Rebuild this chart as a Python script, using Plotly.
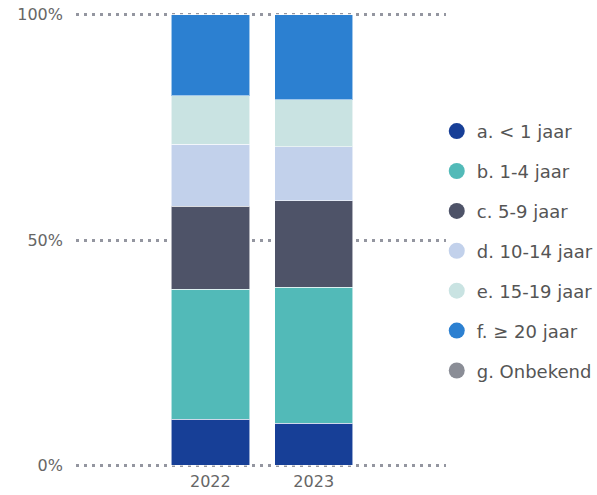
import plotly.graph_objects as go

years = ["2022", "2023"]
categories = ["a. < 1 jaar", "b. 1-4 jaar", "c. 5-9 jaar", "d. 10-14 jaar",
              "e. 15-19 jaar", "f. ≥ 20 jaar", "g. Onbekend"]
values = {
    "a. < 1 jaar":   [10.2, 9.3],
    "b. 1-4 jaar":   [28.9, 30.2],
    "c. 5-9 jaar":   [18.4, 19.2],
    "d. 10-14 jaar": [13.8, 12.0],
    "e. 15-19 jaar": [10.7, 10.4],
    "f. ≥ 20 jaar":  [18.0, 18.9],
    "g. Onbekend":   [0.0, 0.0],
}
colors = ["#173f97", "#52bab8", "#4e5368", "#c2d1eb", "#c9e3e2", "#2c80d1", "#8a8d96"]
y_ticks = [0, 50, 100]
y_tick_labels = ["0%", "50%", "100%"]

FONT = "DejaVu Sans"
fig = go.Figure()
for i, (cat, col) in enumerate(zip(categories, colors)):
    fig.add_trace(go.Bar(
        x=years, y=values[cat], name=cat, marker_color=col,
        marker_line=dict(color="rgba(255,255,255,0.55)", width=1),
        showlegend=False, legendgroup=cat,
    ))
    fig.add_trace(go.Scatter(
        x=[None], y=[None], mode="markers", name=cat, legendgroup=cat,
        marker=dict(color=col, size=16, symbol="circle"),
        showlegend=True,
    ))

fig.update_layout(
    barmode="stack",
    bargap=0.242,
    width=597, height=495,
    margin=dict(l=76, r=151, t=13, b=28, autoexpand=False),
    paper_bgcolor="white", plot_bgcolor="white",
    font=dict(family=FONT, size=16, color="#666666"),
    legend=dict(
        x=0.975, xanchor="left", y=0.78, yanchor="top",
        font=dict(family=FONT, size=18, color="#555555"),
        tracegroupgap=13.5, itemclick=False,
        bgcolor="rgba(0,0,0,0)",
    ),
    xaxis=dict(
        type="category", range=[-1.3, 2.28], showgrid=False, zeroline=False,
        showline=False, tickfont=dict(size=16, color="#666666"),
        ticks="", fixedrange=True, ticklabelstandoff=3,
    ),
    yaxis=dict(
        range=[-0.4, 100.4], tickvals=y_ticks, ticktext=y_tick_labels,
        showgrid=True, gridcolor="#9496a0", gridwidth=3, griddash="3px,5px",
        zeroline=False, showline=False, ticklabelstandoff=12,
        tickfont=dict(size=16, color="#666666"), fixedrange=True,
    ),
)

fig.write_html("out.html", config={"displayModeBar": False},
               post_script="document.body.style.margin='0';")
